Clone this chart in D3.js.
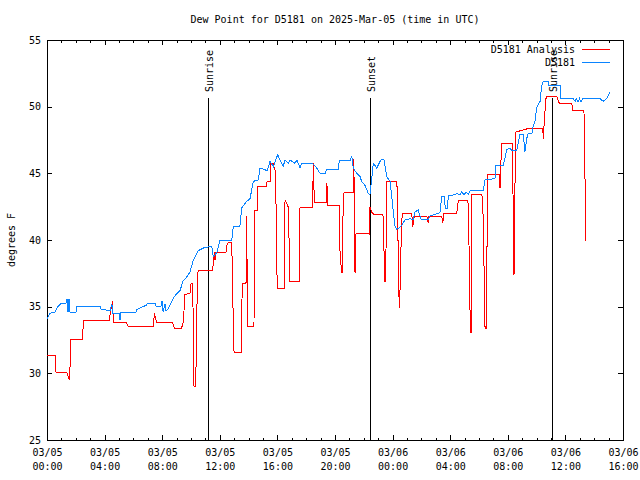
<!DOCTYPE html>
<html><head><meta charset="utf-8">
<script src="https://cdn.jsdelivr.net/npm/d3@7"></script>
<style>
body{margin:0;background:#fff}
svg{display:block}
text{font-family:"DejaVu Sans Mono",monospace;font-size:10px;fill:#000}
.crisp{shape-rendering:crispEdges}
</style>
</head><body><svg id="c" width="640" height="480"></svg>
<script>
// ---- data (hours since 2025-03-05 00:00 UTC, degrees F) ----
const chartTitle = "Dew Point for D5181 on 2025-Mar-05 (time in UTC)";
const yAxisLabel = "degrees F";
const yTickValues = [25, 30, 35, 40, 45, 50, 55];
const seriesNames = ["D5181 Analysis", "D5181"];
const seriesColors = ["#ff0000", "#0a84ff"];
const eventNames = ["Sunrise", "Sunset", "Sunrise"];
const eventHours = [11.19, 22.45, 35.08];

const analysisSeries = [[0,31.35],[0.56,31.35],[0.625,30.1],[1.37,30.1],[1.48,29.75],[1.55,29.5],[1.6,30.5],[1.65,32.55],[2.48,32.55],[2.52,34.0],[3.63,34.0],[3.68,33.95],[4.33,33.95],[4.375,34.4],[4.49,35.1],[4.56,35.4],[4.6,33.8],[5.53,33.8],[5.6,33.55],[6.8,33.5],[7.38,33.5],[7.46,34.5],[7.5,34.3],[7.62,33.8],[8.73,33.8],[8.84,33.4],[9.35,33.4],[9.47,33.9],[9.58,35.9],[9.93,36.0],[10.0,36.7],[10.12,36.75],[10.16,33.1],[10.21,29.0],[10.33,29.0],[10.4,34.6],[10.49,37.7],[11.51,37.7],[11.55,38.4],[11.62,39.1],[11.67,38.5],[11.74,39.1],[12.43,39.1],[12.48,39.55],[12.59,39.85],[12.83,39.85],[12.9,35.75],[12.99,31.55],[13.52,31.55],[13.55,36.75],[13.82,36.75],[13.87,41.8],[13.92,33.5],[14.375,33.5],[14.4,42.25],[14.6,42.25],[14.62,44.0],[15.26,44.0],[15.28,44.4],[15.49,44.4],[15.51,45.75],[15.72,45.75],[15.74,45.45],[15.83,45.45],[15.9,43.0],[15.95,38.6],[15.99,36.4],[16.48,36.4],[16.53,43.0],[16.74,42.5],[16.81,40.0],[16.875,36.9],[17.52,36.9],[17.57,42.4],[18.45,42.45],[18.49,45.75],[18.53,44.1],[18.58,42.8],[19.42,42.8],[19.44,44.25],[19.49,42.6],[20.3,42.6],[20.31,40.1],[20.38,38.4],[20.49,37.5],[20.56,42.0],[20.625,43.55],[21.27,43.55],[21.28,46.1],[21.32,44.75],[21.39,37.5],[21.46,40.5],[22.38,40.45],[22.43,42.5],[22.55,42.1],[22.66,41.95],[23.24,41.95],[23.35,41.8],[23.40,39.4],[23.45,36.9],[23.52,36.9],[23.59,44.4],[24.24,44.4],[24.28,44.05],[24.34,44.0],[24.40,37.25],[24.47,34.9],[24.51,36.0],[24.56,38.4],[24.63,41.5],[24.70,42.0],[25.33,42.0],[25.40,41.0],[25.49,41.7],[25.56,41.8],[26.37,41.8],[26.48,41.25],[26.53,41.8],[27.41,41.8],[27.48,41.25],[27.57,42.0],[28.45,42.0],[28.52,42.45],[28.56,43.0],[29.15,43.0],[29.26,42.75],[29.33,38.0],[29.40,33.1],[29.47,33.1],[29.51,43.4],[30.19,43.4],[30.26,43.0],[30.35,38.0],[30.42,33.4],[30.53,33.4],[30.58,44.9],[31.41,44.9],[31.46,43.9],[31.51,45.5],[31.58,47.25],[32.31,47.25],[32.38,42.1],[32.43,37.4],[32.48,40.0],[32.52,48.0],[32.57,48.1],[33.54,48.4],[34.42,48.4],[34.47,47.6],[34.53,48.9],[34.65,50.6],[34.70,50.75],[35.40,50.75],[35.58,50.25],[36.44,50.25],[36.51,49.75],[37.29,49.75],[37.36,44.75],[37.43,39.9]];

const observedSeries = [[0,34.1],[0.21,34.5],[0.56,34.6],[0.76,35.0],[0.97,35.25],[1.32,35.25],[1.39,35.6],[1.46,34.6],[1.53,35.6],[1.6,34.6],[2.01,34.6],[2.08,35.05],[3.68,35.05],[3.75,34.8],[4.375,34.7],[4.51,35.2],[4.58,34.5],[5.0,34.5],[5.07,34.0],[5.14,34.6],[6.18,34.6],[6.25,34.8],[6.875,35.1],[7.01,35.25],[7.5,35.25],[7.57,35.05],[7.92,35.05],[7.99,35.45],[8.06,34.6],[8.19,35.2],[8.26,34.7],[8.4,34.8],[8.61,35.3],[8.82,35.7],[9.03,36.0],[9.24,36.2],[9.44,36.9],[9.72,37.25],[9.93,37.6],[10.14,38.4],[10.35,38.9],[10.49,39.2],[10.97,39.45],[11.44,39.5],[11.55,38.75],[11.67,38.9],[11.81,39.1],[12.01,40.0],[12.83,40.0],[12.94,41.0],[13.4,41.05],[13.52,42.4],[13.87,42.9],[14.1,43.1],[14.33,44.4],[14.67,44.5],[14.79,45.4],[15.3,45.2],[15.49,45.9],[15.72,45.5],[16.02,46.4],[16.18,46.0],[16.41,45.55],[16.53,46.0],[16.76,45.75],[16.875,46.0],[17.22,45.75],[17.36,46.0],[17.57,45.4],[17.69,45.75],[18.49,45.7],[18.73,45.4],[18.96,45.0],[19.31,45.0],[19.42,45.3],[20.23,45.3],[20.3,45.95],[21.04,45.95],[21.16,46.3],[21.27,45.4],[21.51,45.0],[21.74,44.75],[21.85,44.4],[22.08,44.1],[22.31,43.5],[22.43,43.4],[22.55,44.6],[22.66,45.75],[22.9,45.4],[23.13,45.9],[23.24,46.05],[23.4,46.05],[23.59,44.75],[23.82,44.4],[23.94,43.25],[24.05,42.1],[24.17,41.0],[24.28,40.8],[24.47,40.9],[24.63,41.1],[24.86,41.5],[25.21,41.6],[25.42,41.5],[25.56,42.1],[25.78,42.25],[25.95,41.6],[26.02,41.55],[26.48,41.55],[26.6,41.8],[27.29,42.05],[27.41,43.25],[27.57,43.3],[27.66,42.4],[27.8,42.4],[27.87,43.3],[28.33,43.4],[28.45,43.5],[28.68,43.4],[28.8,43.6],[28.96,43.4],[29.1,43.6],[29.26,43.45],[29.38,43.7],[30.3,43.7],[30.42,44.5],[31.11,44.6],[31.16,45.6],[31.69,45.6],[31.92,46.75],[32.1,46.9],[32.27,46.75],[32.62,46.75],[32.85,47.95],[33.08,47.95],[33.19,46.6],[33.31,47.6],[33.42,48.0],[33.68,48.0],[33.77,48.6],[33.89,48.9],[34.0,49.9],[34.24,50.4],[34.35,51.5],[34.46,51.9],[34.81,51.9],[34.83,51.6],[35.63,51.6],[35.69,50.6],[36.55,50.6],[36.67,50.4],[36.77,50.6],[36.88,50.35],[36.98,50.6],[37.08,50.35],[37.19,50.6],[38.4,50.6],[38.63,50.4],[38.87,50.6],[39.1,51.1]];

// ---- drawing ----
const M = {left: 47, right: 623, top: 40, bottom: 440};
const t0 = Date.UTC(2025, 2, 5, 0, 0);
const t1 = Date.UTC(2025, 2, 6, 16, 0);
const toDate = h => new Date(t0 + h * 3600e3);

const x = d3.scaleUtc().domain([new Date(t0), new Date(t1)]).range([M.left, M.right]);
const y = d3.scaleLinear().domain([25, 55]).range([M.bottom, M.top]);

const svg = d3.select("#c");

svg.append("text").attr("x", (M.left + M.right) / 2).attr("y", 23)
  .attr("text-anchor", "middle").text(chartTitle);

svg.append("text").attr("transform", "translate(15,240) rotate(-90)")
  .attr("text-anchor", "middle").text(yAxisLabel);

const majorTicks = d3.utcHour.every(4).range(new Date(t0), new Date(t1 + 1));
const minorTicks = d3.utcHour.every(1).range(new Date(t0), new Date(t1 + 1));

const fmtDay = d3.utcFormat("%m/%d"), fmtHour = d3.utcFormat("%H:%M");
const gB = svg.append("g").attr("class", "crisp").attr("transform", `translate(0,${M.bottom})`)
  .call(d3.axisBottom(x).tickValues(majorTicks).tickSize(-5).tickPadding(16).tickFormat(fmtDay));
gB.select(".domain").remove();
gB.selectAll(".tick text").attr("dy", 0).attr("font-family", null).attr("font-size", null)
  .each(function(d) {
    d3.select(this).append("tspan").attr("x", 0).attr("dy", 14).text(fmtHour(d));
  });
const gBm = svg.append("g").attr("class", "crisp").attr("transform", `translate(0,${M.bottom})`)
  .call(d3.axisBottom(x).tickValues(minorTicks).tickSize(-2.5).tickFormat(""));
gBm.select(".domain").remove();
const gT = svg.append("g").attr("class", "crisp").attr("transform", `translate(0,${M.top})`)
  .call(d3.axisTop(x).tickValues(majorTicks).tickSize(-5).tickFormat(""));
gT.select(".domain").remove();
const gTm = svg.append("g").attr("class", "crisp").attr("transform", `translate(0,${M.top})`)
  .call(d3.axisTop(x).tickValues(minorTicks).tickSize(-2.5).tickFormat(""));
gTm.select(".domain").remove();

const gL = svg.append("g").attr("class", "crisp").attr("transform", `translate(${M.left},0)`)
  .call(d3.axisLeft(y).tickValues(yTickValues).tickSize(-5).tickPadding(6).tickFormat(d3.format("d")));
gL.select(".domain").remove();
gL.selectAll(".tick text").attr("font-family", null).attr("font-size", null);
const gR = svg.append("g").attr("class", "crisp").attr("transform", `translate(${M.right},0)`)
  .call(d3.axisRight(y).tickValues(yTickValues).tickSize(-5).tickFormat(""));
gR.select(".domain").remove();
svg.selectAll(".tick line").attr("stroke", "#000");

svg.append("rect").attr("class", "crisp")
  .attr("x", M.left + 0.5).attr("y", M.top + 0.5)
  .attr("width", M.right - M.left).attr("height", M.bottom - M.top)
  .attr("fill", "none").attr("stroke", "#000");

eventHours.forEach((h, i) => {
  const ex = Math.round(x(toDate(h))) + 0.5;
  svg.append("line").attr("class", "crisp").attr("x1", ex).attr("x2", ex)
    .attr("y1", 98).attr("y2", M.bottom).attr("stroke", "#000");
  svg.append("text").attr("transform", `translate(${ex + 4},92) rotate(-90)`)
    .attr("text-anchor", "start").text(eventNames[i]);
});

const line = d3.line().x(d => x(toDate(d[0]))).y(d => y(d[1]));
[analysisSeries, observedSeries].forEach((s, i) => {
  svg.append("path").datum(s).attr("class", "crisp")
    .style("fill", "none").style("stroke", seriesColors[i]).style("stroke-width", "1px")
    .attr("d", line);
});

seriesNames.forEach((n, i) => {
  const ly = 49 + i * 13;
  svg.append("text").attr("x", 575).attr("y", ly + 4).attr("text-anchor", "end").text(n);
  svg.append("path").attr("class", "crisp")
    .attr("d", `M582,${ly + 0.5}H610`)
    .style("fill", "none").style("stroke", seriesColors[i]).style("stroke-width", "1px");
});
</script>
</body></html>
